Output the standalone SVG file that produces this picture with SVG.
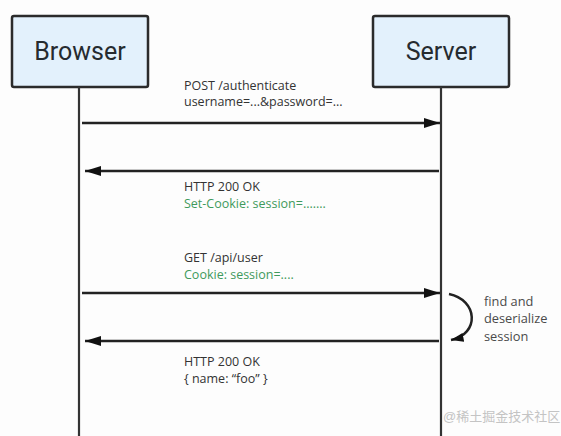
<svg xmlns="http://www.w3.org/2000/svg" width="561" height="436" viewBox="0 0 561 436">
<defs>
<style>
.box{fill:#e3f1fc;stroke:#2b2b2b;stroke-width:2.5}
.title{font-family:Roboto,"Liberation Sans",sans-serif;font-size:25px;fill:#262b2f;text-anchor:middle}
.life{stroke:#333;stroke-width:2.2;fill:none}
.msg{stroke:#222;stroke-width:2.5;fill:none}
.lbl{font-family:"Open Sans","Liberation Sans",sans-serif;font-size:12.5px;fill:#333}
.grn{fill:#3f9a5c}
.note{font-family:"Open Sans","Liberation Sans",sans-serif;font-size:12.8px;fill:#4a4a4a}
.wm{font-family:"Liberation Sans","Noto Sans CJK SC",sans-serif;font-size:13px;fill:#c4c4c4}
</style>
<marker id="ah" viewBox="0 0 16 10" refX="16" refY="5" markerWidth="16" markerHeight="10" markerUnits="userSpaceOnUse" orient="auto">
<path d="M0,0 L16,5 L0,10 z" fill="#111"/>
</marker>
<marker id="ah2" viewBox="0 0 14 10" refX="14" refY="5" markerWidth="13" markerHeight="9" markerUnits="userSpaceOnUse" orient="auto">
<path d="M0,0 L14,5 L0,10 z" fill="#111"/>
</marker>
</defs>
<rect width="561" height="436" fill="#fdfdfd"/>
<g id="browser">
<rect class="box" x="12" y="16" width="136" height="71" rx="2"/>
<text class="title" x="80" y="60">Browser</text>
</g>
<g id="server">
<rect class="box" x="373" y="16" width="136" height="71" rx="2"/>
<text class="title" x="441" y="60">Server</text>
</g>
<g id="connectors">
<line class="life" x1="79" y1="87" x2="79" y2="436"/>
<line class="life" x1="441" y1="87" x2="441" y2="436"/>
<line class="msg" x1="82" y1="123" x2="440" y2="123" marker-end="url(#ah)"/>
<line class="msg" x1="439" y1="171" x2="85" y2="171" marker-end="url(#ah)"/>
<line class="msg" x1="82" y1="293" x2="440" y2="293" marker-end="url(#ah)"/>
<line class="msg" x1="439" y1="341" x2="85" y2="341" marker-end="url(#ah)"/>
<path class="msg" d="M449,294 C478,300 480,334 451,340" marker-end="url(#ah2)"/>
</g>
<g id="labels">
<text class="lbl" x="184" y="90">POST /authenticate</text>
<text class="lbl" x="184" y="106">username=...&amp;password=...</text>
<text class="lbl" x="184" y="191">HTTP 200 OK</text>
<text class="lbl grn" x="184" y="208">Set-Cookie: session=.......</text>
<text class="lbl" x="184" y="262">GET /api/user</text>
<text class="lbl grn" x="184" y="279">Cookie: session=....</text>
<text class="lbl" x="184" y="366">HTTP 200 OK</text>
<text class="lbl" x="184" y="383">{  name: “foo” }</text>
<text class="note" x="484" y="306">find and</text>
<text class="note" x="484" y="323">deserialize</text>
<text class="note" x="484" y="341">session</text>
</g>
<text class="wm" x="443" y="421">@稀土掘金技术社区</text>
</svg>
